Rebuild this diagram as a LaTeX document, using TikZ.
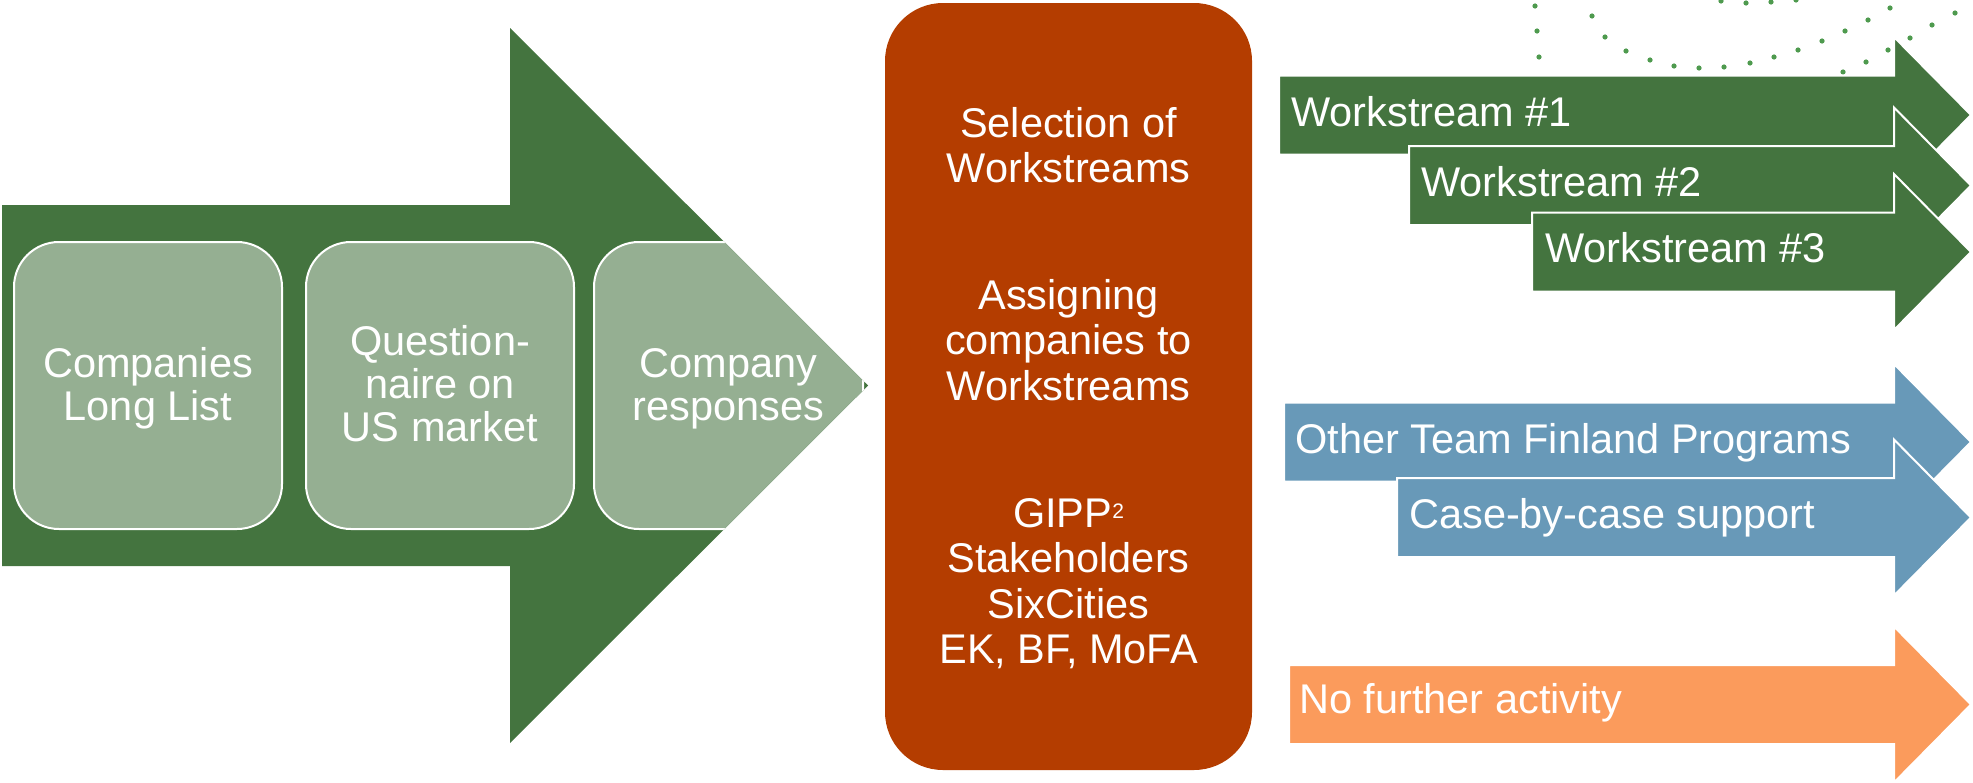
\documentclass[tikz,border=0pt]{standalone}
\usepackage{fontspec}
\setmainfont{Liberation Sans}
\definecolor{darkgreen}{HTML}{44743F}
\definecolor{lightgreen}{HTML}{95AF92}
\definecolor{rust}{HTML}{B43D00}
\definecolor{steel}{HTML}{6899B8}
\definecolor{peach}{HTML}{FB9B5C}
\definecolor{dotgreen}{HTML}{4E9A4E}
\newcommand{\flowarrow}[3]{%
  \draw[white, line width=2pt, fill=#1, line join=miter]
    (#2,#3-39.5) -- (1894,#3-39.5) -- (1894,#3-78) -- (1971,#3)
    -- (1894,#3+78) -- (1894,#3+39.5) -- (#2,#3+39.5) -- cycle;}
\tikzset{
  txtl/.style={text=white, font=\fontsize{41.5}{43}\selectfont, inner sep=0pt, align=center, anchor=north},
  txto/.style={text=white, font=\fontsize{41.5}{45.5}\selectfont, inner sep=0pt, align=center, anchor=north},
  lbl/.style={text=white, font=\fontsize{41.5}{45.5}\selectfont, inner sep=0pt, anchor=base west},
  stage/.style={draw=white, line width=2pt, fill=lightgreen, rounded corners=45pt,
    minimum width=268pt, minimum height=287pt, inner sep=0pt},
  hub/.style={fill=rust, rounded corners=58pt, minimum width=367pt, minimum height=767pt, inner sep=0pt}
}
\begin{document}
\begin{tikzpicture}[x=1pt,y=-1pt]
\useasboundingbox (0,0) rectangle (1973,782);
% decorative dots
\foreach \p in {(1535,6),(1537,31),(1539,57),
  (1592,16),(1605,37),(1626,51),(1650,60),(1674,66),(1699,68),(1724,67),(1750,63),(1774,57),(1798,50),(1822,41),(1845,31),(1868,20),(1890,8),
  (1721,1),(1746,3),(1771,2),(1796,0),
  (1843,72),(1866,62),(1888,50),(1910,38),(1932,25),(1955,13)}
  \fill[dotgreen] \p circle (2.6);
% big arrow
\fill[darkgreen] (2,205) -- (510,205) -- (510,28) -- (868,385.5) -- (510,743) -- (510,566) -- (2,566) -- cycle;
\node[stage] (b1) at (148,385.5) {};
\node[stage] (b2) at (440,385.5) {};
\begin{scope}
\clip (2,205) -- (510,205) -- (510,28) -- (868,385.5) -- (510,743) -- (510,566) -- (2,566) -- cycle;
\node[stage, minimum width=269pt] (b3) at (728.5,385.5) {};
\end{scope}
\node[txtl] (t1) at (148,346) {\rule{0pt}{31pt}Companies\\Long List};
\node[txtl] (t2) at (440,324) {\rule{0pt}{31pt}Question-\\naire on\\US market};
\node[txtl] (t3) at (728.5,346) {\rule{0pt}{31pt}Company\\responses};
% central box
\node[hub] (hub) at (1068.5,386.5) {};
\node[txto] (g1) at (1068.5,106) {\rule{0pt}{31pt}Selection of\\Workstreams};
\node[txto] (g2) at (1068.5,278) {\rule{0pt}{31pt}Assigning\\companies to\\Workstreams};
\node[txto] (g3) at (1068.5,496) {\rule{0pt}{31pt}GIPP\raisebox{9pt}{\fontsize{21}{21}\selectfont 2}\\Stakeholders\\SixCities\\EK, BF, MoFA};
% right arrows
\flowarrow{darkgreen}{1279}{115}
\node[lbl] (ws1) at (1291,126) {Workstream \#1};
\flowarrow{darkgreen}{1409}{185.5}
\node[lbl] (ws2) at (1421,196) {Workstream \#2};
\flowarrow{darkgreen}{1532}{252}
\node[lbl] (ws3) at (1545,262) {Workstream \#3};
\flowarrow{steel}{1284}{442}
\node[lbl] (other) at (1295,453) {Other Team Finland Programs};
\flowarrow{steel}{1397}{517.5}
\node[lbl] (case) at (1409,528) {Case-by-case support};
\flowarrow{peach}{1289}{704.5}
\node[lbl] (none) at (1299,713) {No further activity};
\end{tikzpicture}
\end{document}
